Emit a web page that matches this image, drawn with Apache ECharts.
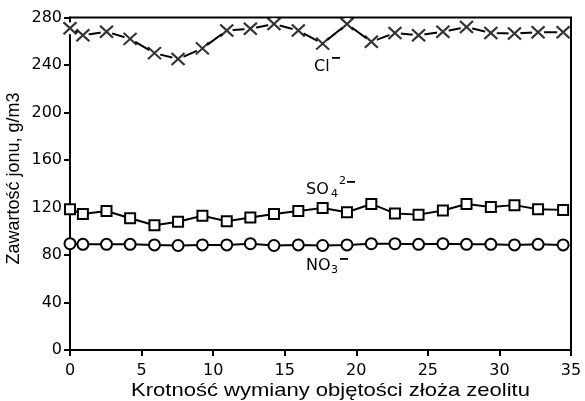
<!DOCTYPE html>
<html><head><meta charset="utf-8">
<script src="https://cdn.jsdelivr.net/npm/echarts@6/dist/echarts.min.js"></script>
<style>html,body{margin:0;padding:0;background:#fff}#c{width:585px;height:401px}</style>
</head><body><div id="c"></div>
<script>
var xVals = [0, 0.9, 2.55, 4.2, 5.9, 7.55, 9.25, 10.95, 12.6, 14.25, 15.95, 17.65, 19.35, 21.05, 22.7, 24.35, 26.05, 27.7, 29.4, 31.05, 32.7, 34.45];
var clVals = [271, 265, 268, 262, 250, 245, 254, 269, 270.5, 274.5, 269, 258, 274.5, 259.5, 267, 265, 268, 272, 267, 266.5, 267.5, 267.5];
var so4Vals = [118.5, 114.5, 117, 111, 105, 108, 113, 108.5, 111.5, 114.5, 117, 119.5, 116, 123, 115, 114, 117.5, 123, 120.5, 122, 118.5, 118];
var no3Vals = [89.5, 89, 89, 89, 88.5, 88, 88.5, 88.5, 89.5, 88, 88.5, 88, 88.5, 89.5, 89.5, 89, 89.5, 89, 89, 88.5, 89, 88.5];
var xTicks = [0, 5, 10, 15, 20, 25, 30, 35];
var yTicks = [0, 40, 80, 120, 160, 200, 240, 280];
var xTitle = 'Krotność wymiany objętości złoża zeolitu';
var yTitle = 'Zawartość jonu, g/m3';

function pairs(v){ return xVals.map(function(x,i){ return [x, v[i]]; }); }
var FONT = '"Liberation Sans", Arial, sans-serif';
var TFONT = '"DejaVu Sans", sans-serif';
var chart = echarts.init(document.getElementById('c'), null, {renderer:'canvas'});
var xPath = 'path://M0,0L12,11M12,0L0,11';
chart.setOption({
  animation:false,
  backgroundColor:'#fff',
  grid:{left:70, right:14, top:17.5, bottom:51, show:true, borderColor:'#000', borderWidth:2, backgroundColor:'transparent'},
  xAxis:{type:'value', min:xTicks[0], max:xTicks[xTicks.length-1], interval:5,
    axisLine:{onZero:false, lineStyle:{color:'#000', width:2}},
    axisTick:{inside:false, length:6, lineStyle:{color:'#000', width:2}},
    axisLabel:{color:'#000', fontSize:16, fontFamily:TFONT, margin:13},
    splitLine:{show:false}},
  yAxis:{type:'value', min:yTicks[0], max:yTicks[yTicks.length-1], interval:40,
    axisLine:{onZero:false, lineStyle:{color:'#000', width:2}},
    axisTick:{inside:false, length:6, lineStyle:{color:'#000', width:2}},
    axisLabel:{color:'#000', fontSize:16, fontFamily:TFONT, margin:8},
    splitLine:{show:false}},
  series:[
    {type:'line', data:pairs(clVals), symbol:'circle', symbolSize:12, z:2,
      lineStyle:{color:'#000', width:2}, itemStyle:{color:'#fff', borderWidth:0}},
    {type:'scatter', data:pairs(clVals), symbol:xPath, symbolSize:[13,12], z:3,
      itemStyle:{color:'none', borderColor:'#000', borderWidth:2.2}},
    {type:'line', data:pairs(so4Vals), symbol:'rect', symbolSize:10, z:2,
      lineStyle:{color:'#000', width:2}, itemStyle:{color:'#fff', borderColor:'#000', borderWidth:2}},
    {type:'line', data:pairs(no3Vals), symbol:'circle', symbolSize:11, z:2,
      lineStyle:{color:'#000', width:2}, itemStyle:{color:'#fff', borderColor:'#000', borderWidth:2}}
  ],
  graphic:[
    {type:'text', x:330.5, y:390.5, scaleX:1.19, scaleY:1, style:{text:xTitle, font:'18.5px '+FONT, fill:'#000', align:'center', verticalAlign:'middle'}},
    {type:'text', x:14.5, y:178.5, rotation:Math.PI/2, style:{text:yTitle, font:'18px '+FONT, fill:'#000', align:'center', verticalAlign:'middle'}},
    {type:'text', left:314, top:59, style:{text:'Cl', font:'16px '+TFONT, fill:'#000'}},
    {type:'rect', left:332, top:57, shape:{width:8, height:1.8}, style:{fill:'#000'}},
    {type:'text', left:306, top:182, style:{text:'SO', font:'16px '+TFONT, fill:'#000'}},
    {type:'text', left:331, top:189, style:{text:'4', font:'11px '+TFONT, fill:'#000'}},
    {type:'text', left:339, top:176, style:{text:'2', font:'11px '+TFONT, fill:'#000'}},
    {type:'rect', left:347, top:181, shape:{width:8, height:1.8}, style:{fill:'#000'}},
    {type:'text', left:306, top:258, style:{text:'NO', font:'16px '+TFONT, fill:'#000'}},
    {type:'text', left:331, top:265, style:{text:'3', font:'11px '+TFONT, fill:'#000'}},
    {type:'rect', left:340, top:258, shape:{width:8, height:1.8}, style:{fill:'#000'}}
  ]
});
</script></body></html>
